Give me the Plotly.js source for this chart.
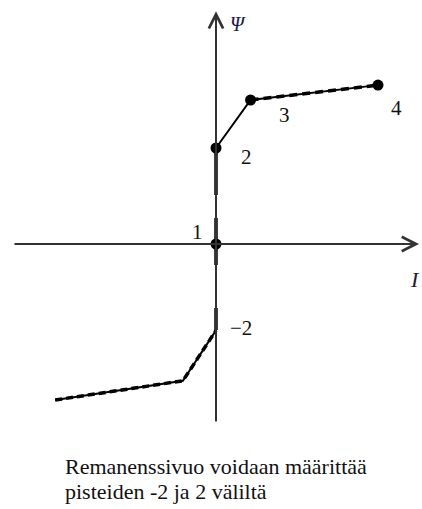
<!DOCTYPE html>
<html>
<head>
<meta charset="utf-8">
<script src="https://cdn.plot.ly/plotly-3.0.1.min.js"></script>
<style>
  html, body { margin: 0; padding: 0; background: #fff; }
  #chart { width: 422px; height: 509px; }
</style>
</head>
<body>
<div id="chart"></div>
<script>
// Magnetisation curve Ψ(I) with the remanent flux between points −2 and 2
const curveI   = [-3.35, -0.69, 0.0];
const curvePsi = [-3.25, -2.85, -1.8];
const riseI    = [0.0, 0.0, 0.0];
const risePsi  = [2.0, 0.0, -1.8];
const upperI   = [0.0, 0.72, 3.375];
const upperPsi = [2.0, 3.0, 3.31];

// Marked points 1–4
const pointI   = [0.0, 0.0, 0.72, 3.375];
const pointPsi = [0.0, 2.0, 3.0, 3.31];

// Point labels (the −2 point carries only a label)
const labelText = ['1', '2', '3', '4', '\u22122'];
const labelI    = [0.0, 0.0, 0.72, 3.375, 0.0];
const labelPsi  = [0.0, 2.0, 3.0, 3.31, -1.8];

const axisLabels = { x: 'I', y: '\u03A8' };
const captionLines = ['Remanenssivuo voidaan määrittää', 'pisteiden -2 ja 2 väliltä'];

// label offsets in pixels
const labelShift = [[-19, 12], [30, -9], [34, -15], [18, -23], [25, 2]];

const serif = 'Liberation Serif';

const thin = { color: '#000', width: 2 };
const traces = [
  { x: curveI, y: curvePsi, mode: 'lines', line: thin, hoverinfo: 'skip' },
  { x: curveI, y: curvePsi, mode: 'lines', line: { color: '#000', width: 3.5, dash: '7px,4px' }, hoverinfo: 'skip' },
  { x: riseI, y: risePsi, mode: 'lines', line: { color: '#000', width: 3.5, dash: '47px,23px,47px,43px,22px' }, hoverinfo: 'skip' },
  { x: upperI, y: upperPsi, mode: 'lines', line: thin, hoverinfo: 'skip' },
  { x: upperI.slice(1), y: upperPsi.slice(1), mode: 'lines', line: { color: '#000', width: 3.5, dash: '8px,5px' }, hoverinfo: 'skip' },
  { x: pointI, y: pointPsi, mode: 'markers', marker: { color: '#000', size: 11 }, hoverinfo: 'skip' }
];

const annotations = [
  // horizontal axis with arrow
  { x: 4.23, y: 0, ax: -4.23, ay: 0, axref: 'x', ayref: 'y', xref: 'x', yref: 'y',
    text: '', showarrow: true, arrowhead: 5, arrowsize: 1.4, arrowwidth: 2, arrowcolor: '#333' },
  // vertical axis with arrow
  { x: 0, y: 4.85, ax: 0, ay: -3.73, axref: 'x', ayref: 'y', xref: 'x', yref: 'y',
    text: '', showarrow: true, arrowhead: 5, arrowsize: 1.4, arrowwidth: 2, arrowcolor: '#333' },
  { x: 0, y: 4.58, xref: 'x', yref: 'y', xshift: 22, showarrow: false,
    text: '<i>' + axisLabels.y + '</i>', font: { family: serif, size: 20, color: '#1a1a4a' } },
  { x: 4.15, y: 0, xref: 'x', yref: 'y', yshift: -35, showarrow: false,
    text: '<i>' + axisLabels.x + '</i>', font: { family: serif, size: 22, color: '#1a1a3a' } }
];

// caption, one annotation per line, 25 px apart
captionLines.forEach((t, i) => {
  annotations.push({
    x: 0, y: 0, xref: 'paper', yref: 'paper', xanchor: 'left', yanchor: 'middle',
    xshift: 63, yshift: 43 - 25 * i, showarrow: false, text: t,
    font: { family: serif, size: 22, color: '#111' }
  });
});

labelText.forEach((t, i) => {
  annotations.push({
    x: labelI[i], y: labelPsi[i], xref: 'x', yref: 'y', showarrow: false,
    xshift: labelShift[i][0], yshift: labelShift[i][1],
    text: t, font: { family: serif, size: 21, color: '#111' }
  });
});

const layout = {
  width: 422, height: 509,
  margin: { l: 0, r: 0, t: 0, b: 0 },
  paper_bgcolor: '#fff', plot_bgcolor: '#fff',
  showlegend: false,
  font: { family: serif },
  xaxis: { range: [-4.5, 4.2917], visible: false, fixedrange: true },
  yaxis: { range: [-5.5208, 5.0833], visible: false, fixedrange: true },
  annotations: annotations
};

Plotly.newPlot('chart', traces, layout, { staticPlot: true, displayModeBar: false });
</script>
</body>
</html>
